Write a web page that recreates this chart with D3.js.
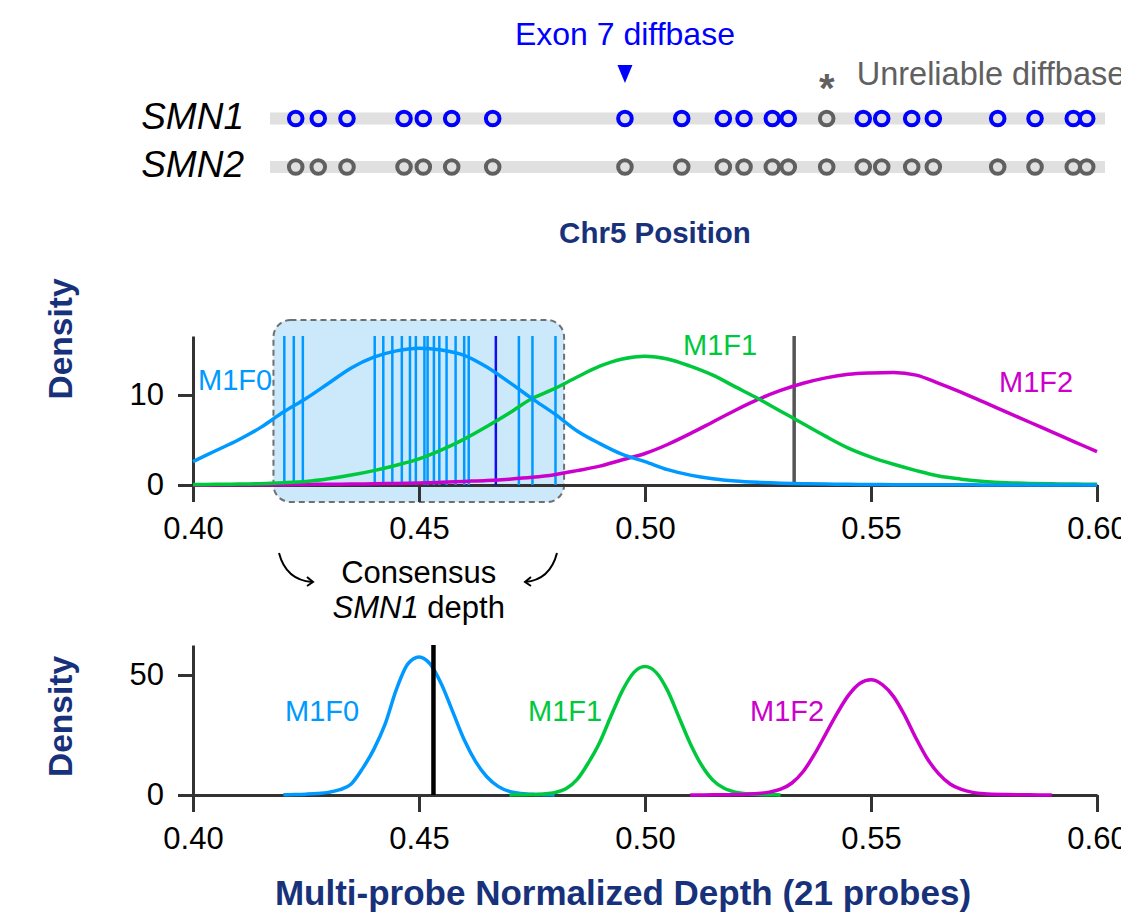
<!DOCTYPE html>
<html>
<head>
<meta charset="utf-8">
<script src="https://cdn.jsdelivr.net/npm/d3@7"></script>
<style>
  html, body { margin: 0; padding: 0; background: #ffffff; }
  svg { display: block; }
</style>
</head>
<body>
<svg id="chart" width="1121" height="923"></svg>
<script>
// ---------------- DATA ----------------
// Top track: diffbase positions (relative Chr5 position, kb from start of region)
const diffbasePos = [3.08, 5.78, 9.22, 16.05, 18.36, 21.76, 26.67, 42.51, 49.31, 54.29, 56.77,
  60.16, 62.07, 66.67, 71.05, 73.26, 76.85, 79.44, 87.15, 91.62, 96.20, 97.81];
const diffbaseStatus = ["ok","ok","ok","ok","ok","ok","ok","exon7","ok","ok","ok",
  "ok","ok","unreliable","ok","ok","ok","ok","ok","ok","ok","ok"];
const genes = ["SMN1", "SMN2"];
const regionExtent = [0, 100];

// Middle panel: per-probe density curves
const midDepth = [0.400,0.405,0.410,0.415,0.420,0.425,0.430,0.435,0.440,0.445,0.450,0.455,0.460,0.465,
  0.470,0.475,0.480,0.485,0.490,0.495,0.500,0.505,0.510,0.515,0.520,0.525,0.530,0.535,0.540,0.545,
  0.550,0.555,0.560,0.565,0.570,0.575,0.580,0.585,0.590,0.595,0.600];
const midM1F0 = [2.6,3.8,5.0,6.4,8.1,9.6,11.3,13.0,14.2,14.9,15.2,15.0,14.4,13.1,
  11.4,9.6,7.9,6.0,4.6,3.4,2.6,1.7,1.1,0.7,0.45,0.3,0.2,0.14,0.1,0.07,
  0.05,0.04,0.03,0.02,0.02,0.01,0.01,0.01,0.0,0.0,0.0];
const midM1F1 = [0.05,0.07,0.1,0.15,0.25,0.4,0.7,1.1,1.6,2.2,2.9,3.9,5.1,6.5,
  8.0,9.6,10.7,12.0,13.2,14.0,14.3,14.0,13.2,12.2,10.9,9.6,8.2,6.8,5.4,4.1,
  3.1,2.3,1.6,1.0,0.65,0.4,0.25,0.18,0.13,0.1,0.08];
const midM1F2 = [0.0,0.01,0.02,0.03,0.04,0.06,0.08,0.1,0.13,0.17,0.22,0.3,0.4,0.5,
  0.65,0.85,1.15,1.6,2.1,2.8,3.5,4.5,5.7,7.0,8.3,9.5,10.5,11.3,11.9,12.3,
  12.45,12.5,12.2,11.3,10.3,9.2,8.1,7.0,5.9,4.8,3.7];
// individual probe depths (one highlighted = exon 7 probe)
const probeDepths = [0.4202,0.4223,0.4243,0.4402,0.4421,0.4441,0.4462,0.4480,0.4493,0.4512,
  0.4519,0.4533,0.4545,0.4561,0.4581,0.4600,0.4610,0.4670,0.4721,0.4751,0.4802];
const probeIsExon7 = [false,false,false,false,false,false,false,false,false,false,
  false,false,false,false,false,false,false,true,false,false,false];
const consensusWindow = [0.4178, 0.4821];
const midMarker = 0.533;

// Bottom panel: multi-probe density curves
const botM1F0x = [0.4200,0.4225,0.4250,0.4275,0.4300,0.4325,0.4350,0.4375,0.4400,0.4425,0.4450,0.4475,
  0.4500,0.4525,0.4550,0.4575,0.4600,0.4625,0.4650,0.4675,0.4700,0.4725,0.4750,0.4775,0.4800];
const botM1F0y = [0.1,0.2,0.35,0.6,1.1,2.2,4.6,11.0,19.0,29.5,44.0,54.5,
  57.5,54.5,46.0,34.5,23.0,14.0,7.6,3.6,1.5,0.6,0.3,0.15,0.05];
const botM1F1x = [0.4700,0.4725,0.4750,0.4775,0.4800,0.4825,0.4850,0.4875,0.4900,0.4925,0.4950,0.4975,
  0.5000,0.5025,0.5050,0.5075,0.5100,0.5125,0.5150,0.5175,0.5200,0.5225,0.5250,0.5275,0.5300];
const botM1F1y = [0.05,0.1,0.2,0.45,1.0,2.6,6.5,13.5,22.0,33.0,43.5,51.0,
  53.5,51.0,43.5,32.5,21.5,12.5,6.2,2.8,1.2,0.5,0.2,0.1,0.05];
const botM1F2x = [0.5100,0.5150,0.5200,0.5225,0.5250,0.5275,0.5300,0.5325,0.5350,0.5375,0.5400,0.5425,
  0.5450,0.5475,0.5500,0.5525,0.5550,0.5575,0.5600,0.5625,0.5650,0.5675,0.5700,0.5725,0.5750,0.5800,0.5850,0.5900];
const botM1F2y = [0.03,0.08,0.2,0.35,0.6,1.2,2.4,5.0,9.8,17.0,25.5,34.0,
  41.5,46.5,48.0,46.0,41.0,33.0,23.5,15.0,8.8,4.6,2.3,1.1,0.55,0.2,0.08,0.03];
const consensusDepth = 0.4532;

const xTicks = [0.40, 0.45, 0.50, 0.55, 0.60];
const midYTicks = [0, 10];
const botYTicks = [0, 50];
const seriesNames = ["M1F0", "M1F1", "M1F2"];

// ---------------- STYLE ----------------
const FONT = "'Liberation Sans', Arial, Helvetica, sans-serif";
const NAVY = "#17317a";
const COL = { M1F0: "#0099ff", M1F1: "#00c83c", M1F2: "#cc00cc" };
const AXIS = "#333333";

const svg = d3.select("#chart");
svg.append("rect").attr("width", 1121).attr("height", 923).attr("fill", "#fff");

// ---------------- TOP TRACK ----------------
const pos = d3.scaleLinear().domain(regionExtent).range([270, 1105]);
const rowY = d3.scalePoint().domain(genes).range([118.5, 167]);

const topG = svg.append("g");
genes.forEach(g => {
  topG.append("rect")
    .attr("x", pos(regionExtent[0])).attr("width", pos(regionExtent[1]) - pos(regionExtent[0]))
    .attr("y", rowY(g) - 6).attr("height", 12).attr("fill", "#e0e0e0");
  topG.append("text").text(g)
    .attr("x", 244).attr("y", rowY(g) + 10)
    .attr("text-anchor", "end")
    .attr("font-family", FONT).attr("font-style", "italic").attr("font-size", 37).attr("fill", "#000");
  topG.selectAll(null).data(diffbasePos.map((p, i) => ({ p, s: diffbaseStatus[i] })))
    .enter().append("circle")
    .attr("cx", d => pos(d.p)).attr("cy", rowY(g))
    .attr("r", 6.8)
    .attr("fill", "none")
    .attr("stroke-width", 4)
    .attr("stroke", d => (g === "SMN1" && d.s !== "unreliable") ? "#0000ff" : "#606060");
});

const exonIdx = diffbaseStatus.indexOf("exon7");
const exX = pos(diffbasePos[exonIdx]);
topG.append("text").text("Exon 7 diffbase")
  .attr("x", exX).attr("y", 45).attr("text-anchor", "middle")
  .attr("font-family", FONT).attr("font-size", 32).attr("fill", "#0000ff");
topG.append("path")
  .attr("d", `M${exX - 7.5},65 L${exX + 7.5},65 L${exX},83 Z`)
  .attr("fill", "#0000ff");

const unrIdx = diffbaseStatus.indexOf("unreliable");
const unX = pos(diffbasePos[unrIdx]);
topG.append("text").text("*")
  .attr("x", unX).attr("y", 102).attr("text-anchor", "middle")
  .attr("font-family", FONT).attr("font-weight", "bold").attr("font-size", 40).attr("fill", "#606060");
topG.append("text").text("Unreliable diffbase")
  .attr("x", unX + 30).attr("y", 85)
  .attr("font-family", FONT).attr("font-size", 32.5).attr("fill", "#606060");

svg.append("text").text("Chr5 Position")
  .attr("x", 655).attr("y", 243).attr("text-anchor", "middle")
  .attr("font-family", FONT).attr("font-weight", "bold").attr("font-size", 29.5).attr("fill", NAVY);

// ---------------- SCALES ----------------
const x = d3.scaleLinear().domain([0.40, 0.60]).range([193, 1097]);
const y1 = d3.scaleLinear().domain([0, 16.55]).range([485, 336]);
const y2 = d3.scaleLinear().domain([0, 62.5]).range([795, 645]);

function styleAxis(g) {
  g.selectAll(".domain").attr("stroke", AXIS).attr("stroke-width", 3);
  g.selectAll(".tick line").attr("stroke", AXIS).attr("stroke-width", 3);
  g.selectAll(".tick text").attr("font-family", FONT).attr("font-size", 31).attr("fill", "#000");
}

function drawPanel(yScale, yTicks, baseY) {
  const gx = svg.append("g").attr("transform", `translate(0,${baseY})`)
    .call(d3.axisBottom(x).tickValues(xTicks).tickFormat(d3.format(".2f"))
      .tickSize(17).tickPadding(15).tickSizeOuter(0));
  styleAxis(gx);
  const gy = svg.append("g").attr("transform", `translate(${x(0.40)},0)`)
    .call(d3.axisLeft(yScale).tickValues(yTicks).tickFormat(d3.format("d"))
      .tickSize(15).tickPadding(14).tickSizeOuter(0));
  styleAxis(gy);
}

// ---------------- MIDDLE PANEL ----------------
const winX0 = x(consensusWindow[0]), winX1 = x(consensusWindow[1]);
svg.append("rect")
  .attr("x", winX0).attr("y", 320)
  .attr("width", winX1 - winX0).attr("height", 182)
  .attr("rx", 17).attr("ry", 17)
  .attr("fill", "#cce8fb")
  .attr("stroke", "#707070").attr("stroke-width", 2).attr("stroke-dasharray", "6,4");

drawPanel(y1, midYTicks, y1(0));

svg.selectAll(null).data(probeDepths.map((d, i) => ({ d, e: probeIsExon7[i] })))
  .enter().append("line")
  .attr("x1", d => x(d.d)).attr("x2", d => x(d.d))
  .attr("y1", y1(16.55)).attr("y2", y1(0))
  .attr("stroke", d => d.e ? "#1010ee" : "#0099ff")
  .attr("stroke-width", 2.5);

svg.append("line")
  .attr("x1", x(midMarker)).attr("x2", x(midMarker))
  .attr("y1", y1(16.55)).attr("y2", y1(0))
  .attr("stroke", "#555").attr("stroke-width", 3.5);

const midSeries = { M1F0: midM1F0, M1F1: midM1F1, M1F2: midM1F2 };
const line1 = d3.line().x(d => x(d[0])).y(d => y1(d[1])).curve(d3.curveMonotoneX);
["M1F2", "M1F1", "M1F0"].forEach(k => {
  svg.append("path")
    .datum(midDepth.map((v, i) => [v, midSeries[k][i]]))
    .attr("d", line1).attr("fill", "none")
    .attr("stroke", COL[k]).attr("stroke-width", 3.5).attr("stroke-linejoin", "round");
});

const midLabels = [
  { k: "M1F0", x: 198, y: 390 },
  { k: "M1F1", x: 683, y: 355 },
  { k: "M1F2", x: 999, y: 392 }
];
midLabels.forEach(l => {
  svg.append("text").text(l.k).attr("x", l.x).attr("y", l.y)
    .attr("font-family", FONT).attr("font-size", 29).attr("fill", COL[l.k]);
});

// Density label
[339, 716.5].forEach(cy => {
  svg.append("text").text("Density")
    .attr("transform", `translate(72,${cy}) rotate(-90)`)
    .attr("text-anchor", "middle")
    .attr("font-family", FONT).attr("font-weight", "bold").attr("font-size", 33.5).attr("fill", NAVY);
});

// Consensus annotation
const ann = svg.append("g");
const cx = (winX0 + winX1) / 2;
ann.append("text").text("Consensus")
  .attr("x", cx).attr("y", 583).attr("text-anchor", "middle")
  .attr("font-family", FONT).attr("font-size", 31).attr("fill", "#000");
const t2 = ann.append("text")
  .attr("x", cx).attr("y", 618).attr("text-anchor", "middle")
  .attr("font-family", FONT).attr("font-size", 31).attr("fill", "#000");
t2.append("tspan").attr("font-style", "italic").text("SMN1");
t2.append("tspan").text(" depth");
ann.append("path").attr("d", "M279,553 Q286,580 312,582")
  .attr("fill", "none").attr("stroke", "#000").attr("stroke-width", 2);
ann.append("path").attr("d", "M307,577 L313,582 L307,586")
  .attr("fill", "none").attr("stroke", "#000").attr("stroke-width", 2);
ann.append("path").attr("d", "M557,553 Q550,580 525,582")
  .attr("fill", "none").attr("stroke", "#000").attr("stroke-width", 2);
ann.append("path").attr("d", "M531,577 L525,582 L531,586")
  .attr("fill", "none").attr("stroke", "#000").attr("stroke-width", 2);

// ---------------- BOTTOM PANEL ----------------
drawPanel(y2, botYTicks, y2(0));

const line2 = d3.line().x(d => x(d[0])).y(d => y2(d[1])).curve(d3.curveMonotoneX);
const botSeries = [
  { k: "M1F0", xs: botM1F0x, ys: botM1F0y },
  { k: "M1F1", xs: botM1F1x, ys: botM1F1y },
  { k: "M1F2", xs: botM1F2x, ys: botM1F2y }
];
botSeries.forEach(s => {
  svg.append("path")
    .datum(s.xs.map((v, i) => [v, s.ys[i]]))
    .attr("d", line2).attr("fill", "none")
    .attr("stroke", COL[s.k]).attr("stroke-width", 3.5).attr("stroke-linejoin", "round");
});

svg.append("line")
  .attr("x1", x(consensusDepth)).attr("x2", x(consensusDepth))
  .attr("y1", y2(62.5)).attr("y2", y2(0))
  .attr("stroke", "#000").attr("stroke-width", 4.5);

const botLabels = [
  { k: "M1F0", x: 285, y: 721 },
  { k: "M1F1", x: 528, y: 721 },
  { k: "M1F2", x: 750, y: 721 }
];
botLabels.forEach(l => {
  svg.append("text").text(l.k).attr("x", l.x).attr("y", l.y)
    .attr("font-family", FONT).attr("font-size", 29).attr("fill", COL[l.k]);
});

svg.append("text").text("Multi-probe Normalized Depth (21 probes)")
  .attr("x", 623).attr("y", 905).attr("text-anchor", "middle")
  .attr("font-family", FONT).attr("font-weight", "bold").attr("font-size", 35).attr("fill", NAVY);
</script>
</body>
</html>
